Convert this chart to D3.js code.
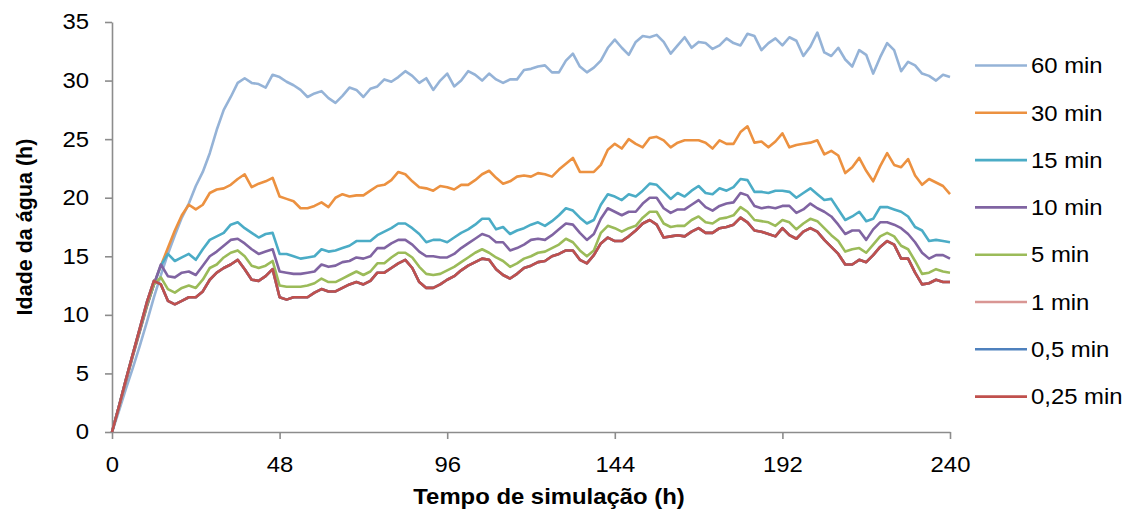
<!DOCTYPE html>
<html>
<head>
<meta charset="utf-8">
<script src="https://d3js.org/d3.v7.min.js"></script>
<style>
  body { margin: 0; background: #fff; }
  text { font-family: Arial, "Liberation Sans", sans-serif; fill: #000; }
</style>
</head>
<body>
<script>
// tempo de simulação, passo de 2 h
const horas = d3.range(0, 241, 2);
const xTicks = [0, 48, 96, 144, 192, 240];
const yTicks = [0, 5, 10, 15, 20, 25, 30, 35];

const nomes = ["60 min", "30 min", "15 min", "10 min", "5 min", "1 min", "0,5 min", "0,25 min"];
const cores = ["#95b3d7", "#ec9140", "#4bacc6", "#8064a2", "#9bbb59", "#d99694", "#4f81bd", "#c0504d"];

const s60 = [0,1.8,3.7,5.5,7.4,9.4,11.5,13.4,15.2,16.8,
  18.3,19.5,21.0,22.2,23.8,25.8,27.5,28.6,29.8,30.2,
  29.8,29.7,29.4,30.5,30.3,29.9,29.6,29.2,28.6,28.9,
  29.1,28.5,28.1,28.7,29.4,29.2,28.6,29.3,29.5,30.1,
  29.9,30.3,30.8,30.4,29.8,30.2,29.2,30.0,30.6,29.5,
  30.0,30.8,30.5,30.0,30.6,30.1,29.8,30.1,30.1,30.9,
  31.0,31.2,31.3,30.7,30.7,31.7,32.3,31.2,30.7,31.1,
  31.7,32.8,33.5,32.8,32.2,33.3,33.8,33.7,33.9,33.3,
  32.3,33.0,33.7,32.8,33.3,33.2,32.7,33.0,33.6,33.2,
  33.0,34.0,33.8,32.6,33.2,33.6,33.0,33.7,33.4,32.1,
  32.9,34.1,32.4,32.1,32.8,31.8,31.2,32.6,32.2,30.6,
  32.0,33.2,32.6,30.8,31.6,31.3,30.6,30.4,30.0,30.5,
  30.3];

const s30 = [0,2.1,4.3,6.5,8.6,10.7,12.6,14.2,15.7,17.2,
  18.5,19.4,19.0,19.4,20.4,20.7,20.8,21.1,21.6,22.0,
  20.9,21.2,21.4,21.7,20.1,19.9,19.7,19.1,19.1,19.3,
  19.6,19.2,20.0,20.3,20.1,20.2,20.2,20.6,21.0,21.1,
  21.5,22.2,22.0,21.4,20.9,20.8,20.6,21.0,20.9,20.7,
  21.1,21.1,21.5,22.0,22.3,21.7,21.2,21.4,21.8,21.9,
  21.8,22.1,22.0,21.8,22.4,22.9,23.4,22.2,22.2,22.2,
  22.8,24.1,24.6,24.2,25.0,24.6,24.3,25.1,25.2,24.9,
  24.3,24.7,24.9,24.9,24.9,24.7,24.2,24.9,24.6,24.6,
  25.6,26.1,24.7,24.8,24.3,24.8,25.5,24.3,24.5,24.6,
  24.7,24.9,23.7,24.0,23.6,22.1,22.6,23.4,22.3,21.4,
  22.7,23.8,22.8,22.6,23.3,21.9,21.1,21.6,21.3,21.0,
  20.3];

const s15 = [0,2.2,4.4,6.6,8.7,10.8,12.6,14.2,15.2,14.6,
  14.9,15.2,14.7,15.6,16.4,16.7,17.0,17.7,17.9,17.4,
  17.0,16.6,16.9,17.0,15.2,15.2,15.0,14.8,14.9,15.0,
  15.6,15.4,15.5,15.7,15.9,16.3,16.3,16.3,16.8,17.1,
  17.4,17.8,17.8,17.4,16.9,16.2,16.4,16.4,16.2,16.6,
  17.0,17.3,17.7,18.2,18.2,17.3,17.5,16.9,17.2,17.4,
  17.7,17.9,17.6,18.0,18.5,19.1,18.9,18.3,17.8,18.1,
  19.4,20.3,20.1,19.8,20.3,20.1,20.6,21.2,21.1,20.5,
  19.9,20.4,20.1,20.6,21.0,20.4,20.3,20.8,20.6,20.9,
  21.6,21.5,20.5,20.5,20.4,20.6,20.6,20.5,20.0,20.4,
  20.8,20.3,19.8,19.9,19.0,18.1,18.4,18.8,18.0,18.2,
  19.2,19.2,19.0,18.8,18.4,17.5,17.2,16.3,16.4,16.3,
  16.2];

const s10 = [0,2.2,4.4,6.6,8.7,10.8,12.6,14.3,13.3,13.2,
  13.6,13.7,13.4,14.2,15.0,15.4,15.9,16.4,16.5,16.1,
  15.6,15.2,15.4,15.6,13.7,13.6,13.5,13.5,13.6,13.7,
  14.3,14.1,14.2,14.5,14.6,14.9,14.8,15.0,15.7,15.7,
  16.1,16.4,16.4,16.0,15.4,15.0,15.0,14.9,14.9,15.2,
  15.7,16.1,16.5,16.9,16.7,16.2,16.2,15.5,15.7,16.0,
  16.4,16.5,16.4,16.8,17.3,17.8,17.7,17.0,16.4,16.9,
  18.2,19.1,18.8,18.5,18.8,18.8,19.5,20.0,20.0,19.1,
  18.7,19.0,19.0,19.4,19.8,19.2,18.9,19.3,19.5,19.6,
  20.4,20.2,19.3,19.1,19.2,19.1,19.3,19.3,18.7,19.0,
  19.5,19.1,18.8,18.4,17.7,16.9,17.2,17.2,16.4,17.3,
  17.9,17.9,17.7,17.4,16.9,16.2,15.3,14.8,15.1,15.1,
  14.8];

const s5 = [0,2.2,4.5,6.7,8.8,10.9,12.6,13.2,12.2,11.9,
  12.3,12.5,12.3,13.0,14.0,14.3,14.9,15.3,15.5,15.0,
  14.2,14.0,14.2,14.6,12.5,12.4,12.4,12.4,12.5,12.7,
  13.1,12.8,12.8,13.1,13.4,13.7,13.4,13.7,14.4,14.4,
  14.9,15.3,15.3,14.9,14.1,13.5,13.4,13.5,13.8,14.1,
  14.5,14.9,15.3,15.6,15.3,14.9,14.6,14.1,14.4,14.8,
  15.0,15.3,15.4,15.7,16.0,16.5,16.2,15.5,15.0,15.5,
  17.0,17.6,17.4,17.1,17.4,17.6,18.3,18.8,18.8,17.8,
  17.5,17.6,17.6,18.1,18.4,17.9,17.8,18.2,18.3,18.5,
  19.2,18.8,18.1,18.0,17.9,17.6,18.1,17.9,17.3,17.8,
  18.2,18.0,17.4,16.8,16.3,15.4,15.6,15.7,15.3,16.0,
  16.7,17.0,16.7,15.9,15.6,14.6,13.5,13.6,13.9,13.7,
  13.6];

const s1 = [0,2.2,4.5,6.7,8.9,11.1,12.9,12.6,11.2,10.9,
  11.2,11.5,11.5,12.0,13.0,13.6,14.0,14.3,14.7,13.9,
  13.0,12.9,13.3,13.9,11.5,11.3,11.5,11.5,11.5,11.9,
  12.2,12.0,12.0,12.3,12.6,12.8,12.6,12.9,13.6,13.6,
  14.0,14.4,14.7,14.0,12.8,12.3,12.3,12.6,13.0,13.3,
  13.8,14.2,14.5,14.8,14.7,13.9,13.4,13.1,13.5,14.0,
  14.2,14.5,14.6,15.0,15.2,15.5,15.5,14.7,14.4,15.1,
  16.1,16.6,16.3,16.3,16.7,17.2,17.8,18.1,17.7,16.6,
  16.7,16.8,16.7,17.1,17.4,17.0,17.0,17.4,17.5,17.7,
  18.3,17.9,17.2,17.1,16.9,16.7,17.4,16.8,16.5,17.1,
  17.4,17.1,16.4,15.8,15.2,14.3,14.3,14.7,14.5,15.1,
  15.8,16.3,16.0,14.8,14.8,13.6,12.6,12.7,13.0,12.8,
  12.8];

const s05 = [0,2.2,4.5,6.7,8.9,11.1,12.9,12.6,11.2,10.9,
  11.2,11.5,11.5,12.0,13.0,13.6,14.0,14.3,14.7,13.9,
  13.0,12.9,13.3,13.9,11.5,11.3,11.5,11.5,11.5,11.9,
  12.2,12.0,12.0,12.3,12.6,12.8,12.6,12.9,13.6,13.6,
  14.0,14.4,14.7,14.0,12.8,12.3,12.3,12.6,13.0,13.3,
  13.8,14.2,14.5,14.8,14.7,13.9,13.4,13.1,13.5,14.0,
  14.2,14.5,14.6,15.0,15.2,15.5,15.5,14.7,14.4,15.1,
  16.1,16.6,16.3,16.3,16.7,17.2,17.8,18.1,17.7,16.6,
  16.7,16.8,16.7,17.1,17.4,17.0,17.0,17.4,17.5,17.7,
  18.3,17.9,17.2,17.1,16.9,16.7,17.4,16.8,16.5,17.1,
  17.4,17.1,16.4,15.8,15.2,14.3,14.3,14.7,14.5,15.1,
  15.8,16.3,16.0,14.8,14.8,13.6,12.6,12.7,13.0,12.8,
  12.8];

const s025 = [0,2.2,4.5,6.7,8.9,11.1,12.9,12.6,11.2,10.9,
  11.2,11.5,11.5,12.0,13.0,13.6,14.0,14.3,14.7,13.9,
  13.0,12.9,13.3,13.9,11.5,11.3,11.5,11.5,11.5,11.9,
  12.2,12.0,12.0,12.3,12.6,12.8,12.6,12.9,13.6,13.6,
  14.0,14.4,14.7,14.0,12.8,12.3,12.3,12.6,13.0,13.3,
  13.8,14.2,14.5,14.8,14.7,13.9,13.4,13.1,13.5,14.0,
  14.2,14.5,14.6,15.0,15.2,15.5,15.5,14.7,14.4,15.1,
  16.1,16.6,16.3,16.3,16.7,17.2,17.8,18.1,17.7,16.6,
  16.7,16.8,16.7,17.1,17.4,17.0,17.0,17.4,17.5,17.7,
  18.3,17.9,17.2,17.1,16.9,16.7,17.4,16.8,16.5,17.1,
  17.4,17.1,16.4,15.8,15.2,14.3,14.3,14.7,14.5,15.1,
  15.8,16.3,16.0,14.8,14.8,13.6,12.6,12.7,13.0,12.8,
  12.8];

const series = [s60, s30, s15, s10, s5, s1, s05, s025];

const width = 1126, height = 510;
const margin = {left: 112, right: 176, top: 22, bottom: 78};
const fonte = 21.5;

const svg = d3.select("body").append("svg")
  .attr("width", width)
  .attr("height", height);

const x = d3.scaleLinear()
  .domain([0, 240])
  .range([margin.left, width - margin.right]);

const y = d3.scaleLinear()
  .domain([0, 35])
  .range([height - margin.bottom, margin.top]);

// eixos
const xAxis = svg.append("g")
  .attr("transform", `translate(0,${height - margin.bottom})`)
  .call(d3.axisBottom(x).tickValues(xTicks).tickSize(7).tickPadding(18).tickSizeOuter(0));

const yAxis = svg.append("g")
  .attr("transform", `translate(${margin.left},0)`)
  .call(d3.axisLeft(y).tickValues(yTicks).tickSize(7).tickPadding(16).tickSizeOuter(0));

[xAxis, yAxis].forEach(function (g) {
  g.selectAll("path, line").attr("stroke", "#8c8c8c").attr("stroke-width", 1.6);
  g.selectAll("text").attr("font-size", fonte).attr("fill", "#000").classed("largo", true);
});

// linhas
const line = d3.line()
  .x(function (d, i) { return x(horas[i]); })
  .y(function (d) { return y(d); });

svg.append("g").selectAll("path")
  .data(series)
  .enter()
  .append("path")
    .attr("d", line)
    .attr("fill", "none")
    .attr("stroke", function (d, i) { return cores[i]; })
    .attr("stroke-width", 2.6)
    .attr("stroke-linejoin", "round");

// títulos (o do eixo x não está centrado no eixo, no original)
svg.append("text")
  .attr("class", "largo")
  .attr("x", 549)
  .attr("y", 504)
  .attr("text-anchor", "middle")
  .attr("font-size", fonte)
  .attr("font-weight", "bold")
  .text("Tempo de simulação (h)");

svg.append("text")
  .attr("transform", `translate(32,${(y(0) + y(35)) / 2}) rotate(-90)`)
  .attr("text-anchor", "middle")
  .attr("font-size", fonte)
  .attr("font-weight", "bold")
  .text("Idade da água (h)");

// legenda
const legend = svg.append("g").selectAll("g")
  .data(nomes)
  .enter()
  .append("g")
    .attr("transform", function (d, i) { return `translate(975,${65.5 + i * 47.3})`; });

legend.append("line")
  .attr("x1", 0).attr("x2", 52)
  .attr("stroke", function (d, i) { return cores[i]; })
  .attr("stroke-width", 2.6);

legend.append("text")
  .attr("class", "largo")
  .attr("x", 56)
  .attr("dy", "0.36em")
  .attr("font-size", fonte)
  .text(function (d) { return d; });

// o texto do original é um pouco esticado na horizontal
svg.selectAll("text.largo").each(function () {
  const w = this.getComputedTextLength();
  d3.select(this)
    .attr("textLength", w * 1.11)
    .attr("lengthAdjust", "spacingAndGlyphs");
});
</script>
</body>
</html>
